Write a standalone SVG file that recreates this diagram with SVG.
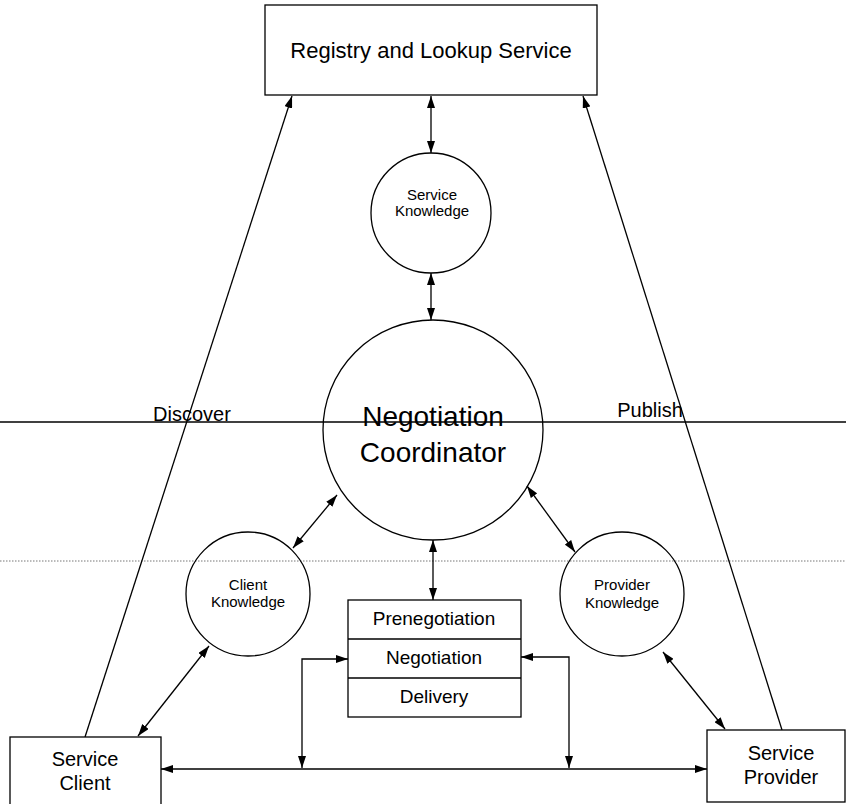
<svg xmlns="http://www.w3.org/2000/svg" width="846" height="804" viewBox="0 0 846 804">
  <defs>
    <marker id="arrow" viewBox="0 0 12 8" refX="12" refY="4" markerWidth="12" markerHeight="8" markerUnits="userSpaceOnUse" orient="auto-start-reverse">
      <path d="M0,0 L12,4 L0,8 z" fill="#000"/>
    </marker>
    <style>
      .box { fill: #fff; stroke: #000; stroke-width: 1.3; }
      .node { fill: none; stroke: #000; stroke-width: 1.3; }
      .edge { fill: none; stroke: #000; stroke-width: 1.3; }
      .arr { marker-end: url(#arrow); }
      .both { marker-start: url(#arrow); marker-end: url(#arrow); }
      text { font-family: "Liberation Sans", Arial, sans-serif; fill: #000; text-anchor: middle; }
      .big { font-size: 22px; }
      .mid { font-size: 20px; }
      .stack { font-size: 19px; }
      .small { font-size: 15px; }
      .coord { font-size: 28px; }
    </style>
  </defs>

  <rect width="846" height="804" fill="#fff"/>

  <!-- layer separators -->
  <line x1="0" y1="422" x2="846" y2="422" stroke="#000" stroke-width="1.5"/>
  <line x1="0" y1="561" x2="846" y2="561" stroke="#777" stroke-width="1" stroke-dasharray="1.5,1.5"/>

  <g id="connectors">
    <!-- Discover / Publish -->
    <line class="edge arr" x1="85" y1="737" x2="292" y2="96"/>
    <line class="edge arr" x1="782" y1="730" x2="583" y2="96"/>
    <!-- registry <-> service knowledge <-> coordinator -->
    <line class="edge both" x1="431" y1="96" x2="431" y2="153"/>
    <line class="edge both" x1="431" y1="273" x2="431" y2="320"/>
    <!-- coordinator <-> stack -->
    <line class="edge both" x1="433" y1="540" x2="433" y2="600"/>
    <!-- coordinator <-> client / provider knowledge -->
    <line class="edge both" x1="337" y1="495" x2="293" y2="548"/>
    <line class="edge both" x1="527" y1="486" x2="575" y2="552"/>
    <!-- knowledge <-> client / provider -->
    <line class="edge both" x1="209" y1="646" x2="138" y2="736"/>
    <line class="edge both" x1="663" y1="652" x2="725" y2="729"/>
    <!-- client <-> provider -->
    <line class="edge both" x1="161" y1="769" x2="707" y2="769"/>
    <!-- negotiation taps -->
    <polyline class="edge both" points="302,768 302,659 348,659"/>
    <polyline class="edge both" points="569,768 569,657 521,657"/>
  </g>

  <g id="registry">
    <rect class="box" x="265" y="5" width="332" height="90"/>
    <text class="big" x="431" y="58">Registry and Lookup Service</text>
  </g>

  <g id="service-knowledge">
    <circle class="node" cx="431" cy="213" r="60"/>
    <text class="small" x="432" y="200">Service</text>
    <text class="small" x="432" y="216">Knowledge</text>
  </g>

  <g id="negotiation-coordinator">
    <circle class="node" cx="433" cy="430" r="110"/>
    <text class="coord" x="433" y="426">Negotiation</text>
    <text class="coord" x="433" y="462">Coordinator</text>
  </g>

  <g id="client-knowledge">
    <circle class="node" cx="248" cy="594" r="62"/>
    <text class="small" x="248" y="590">Client</text>
    <text class="small" x="248" y="607">Knowledge</text>
  </g>

  <g id="provider-knowledge">
    <circle class="node" cx="622" cy="594" r="62"/>
    <text class="small" x="622" y="590">Provider</text>
    <text class="small" x="622" y="608">Knowledge</text>
  </g>

  <g id="phases">
    <rect class="box" x="348" y="600" width="173" height="117"/>
    <line class="edge" x1="348" y1="639" x2="521" y2="639"/>
    <line class="edge" x1="348" y1="678" x2="521" y2="678"/>
    <text class="stack" x="434" y="625">Prenegotiation</text>
    <text class="stack" x="434" y="664">Negotiation</text>
    <text class="stack" x="434" y="703">Delivery</text>
  </g>

  <g id="service-client">
    <rect class="box" x="10" y="737" width="151" height="75"/>
    <text class="mid" x="85" y="766">Service</text>
    <text class="mid" x="85" y="790">Client</text>
  </g>

  <g id="service-provider">
    <rect class="box" x="707" y="730" width="138" height="72"/>
    <text class="mid" x="781" y="760">Service</text>
    <text class="mid" x="781" y="784">Provider</text>
  </g>

  <g id="labels">
    <text class="mid" x="192" y="421">Discover</text>
    <text class="mid" x="650" y="417">Publish</text>
  </g>
</svg>
